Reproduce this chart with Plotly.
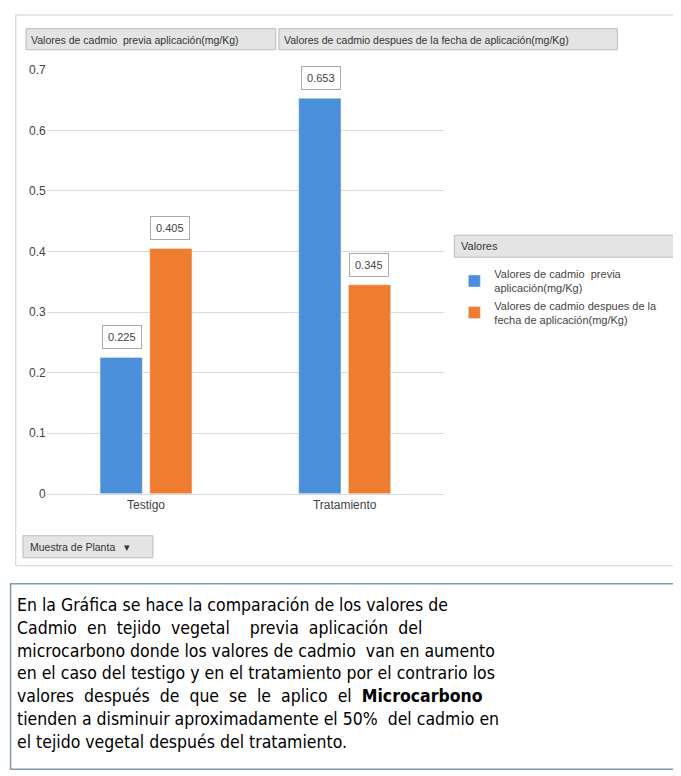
import plotly.graph_objects as go

categories = ["Testigo", "Tratamiento"]
previa = [0.225, 0.653]
despues = [0.405, 0.345]
series_names = ["Valores de cadmio  previa aplicación(mg/Kg)",
                "Valores de cadmio despues de la fecha de aplicación(mg/Kg)"]
legend_labels = ["Valores de cadmio  previa<br>aplicación(mg/Kg)",
                 "Valores de cadmio despues de la<br>fecha de aplicación(mg/Kg)"]
colors = ["#4a8fd9", "#ef7d2f"]

W, H = 681, 776
# compensate for the page scaling seen in the render
def px(x): return max(0, min(1, ((x - 7.5) / 0.969) / W))
def py(y): return max(0, min(1, 1 - ((y - 15.3) / 0.98) / H))

fig = go.Figure()
for vals, lab, col, off in [(previa, legend_labels[0], colors[0], 0), (despues, legend_labels[1], colors[1], 1)]:
    fig.add_trace(go.Bar(x=categories, y=vals, name=lab, marker_color=col,
                         offsetgroup=str(off), hoverinfo="y"))
    for c, v in zip(categories, vals):
        fig.add_annotation(x=c, y=v, xref="x", yref="y", text=f"{v:g}", showarrow=False,
                           xshift=(-24 if off == 0 else 24), yshift=20,
                           font=dict(size=11, color="#444"), bgcolor="white",
                           bordercolor="#aaa", borderwidth=1, borderpad=5)

fnt = "Liberation Sans, Arial"
fig.update_layout(
    width=W, height=H, margin=dict(l=0, r=0, t=0, b=0),
    paper_bgcolor="white", plot_bgcolor="white",
    font=dict(family=fnt, size=12, color="#444"),
    barmode="group", bargap=0.5, bargroupgap=0.15,
    xaxis=dict(domain=[px(45), px(430)], showline=True, linecolor="#d9d9d9", ticks="",
               tickfont=dict(size=12)),
    yaxis=dict(domain=[py(493), py(70)], range=[0, 0.7], dtick=0.1, gridcolor="#d9d9d9",
               tickformat="~g", tickfont=dict(size=12), zeroline=False),
    legend=dict(x=px(440), y=py(260), xanchor="left", yanchor="top",
                font=dict(size=11, color="#444"), bgcolor="rgba(0,0,0,0)", tracegroupgap=6,
                itemwidth=30),
    showlegend=True,
)

shapes = [
    dict(type="rect", x0=px(15), x1=px(665), y0=py(15), y1=py(565), line=dict(color="#d0d0d0", width=1)),
    dict(type="rect", x0=px(25), x1=px(267), y0=py(29), y1=py(50), fillcolor="#e4e4e4", line=dict(color="#bbb", width=1)),
    dict(type="rect", x0=px(270), x1=px(598), y0=py(29), y1=py(50), fillcolor="#e4e4e4", line=dict(color="#bbb", width=1)),
    dict(type="rect", x0=px(440), x1=px(656), y0=py(235), y1=py(257), fillcolor="#e4e4e4", line=dict(color="#bbb", width=1)),
    dict(type="rect", x0=px(22), x1=px(148), y0=py(535), y1=py(557), fillcolor="#e4e4e4", line=dict(color="#bbb", width=1)),
    dict(type="rect", x0=px(10), x1=px(668), y0=py(583), y1=py(768), line=dict(color="#8497b0", width=1.5)),
]
for s in shapes:
    s.update(xref="paper", yref="paper")
fig.update_layout(shapes=shapes)

def label(x, y, t, size=11, **kw):
    fig.add_annotation(x=px(x), y=py(y), xref="paper", yref="paper", text=t, showarrow=False,
                       xanchor="left", yanchor="middle", font=dict(size=size, color="#333"), **kw)

label(28, 40, series_names[0], size=10.5)
label(273, 40, series_names[1], size=10.5)
label(445, 246, "Valores")
label(27, 546, "Muestra de Planta   ▾", size=10.5)

body = ("En la Gráfica se hace la comparación de los valores de<br>"
        "Cadmio  en  tejido  vegetal    previa  aplicación  del<br>"
        "microcarbono donde los valores de cadmio  van en aumento<br>"
        "en el caso del testigo y en el tratamiento por el contrario los<br>"
        "valores  después  de  que  se  le  aplico  el  <b>Microcarbono</b><br>"
        "tienden a disminuir aproximadamente el 50%  del cadmio en<br>"
        "el tejido vegetal después del tratamiento.")
fig.add_annotation(x=px(14), y=py(592), xref="paper", yref="paper", text=body, showarrow=False,
                   xanchor="left", yanchor="top", align="left",
                   font=dict(size=17.5, color="black", family="DejaVu Sans Condensed, DejaVu Sans"))

fig.write_html("out.html")
